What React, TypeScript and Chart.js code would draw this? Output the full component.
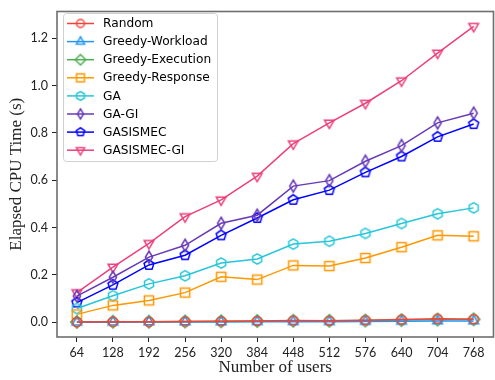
import React, { useEffect, useRef } from "react";
import { Chart, registerables } from "chart.js";

Chart.register(...registerables);

const users = [64, 128, 192, 256, 320, 384, 448, 512, 576, 640, 704, 768];
const yTickValues = [0.0, 0.2, 0.4, 0.6, 0.8, 1.0, 1.2];

const seriesNames = [
  "Random",
  "Greedy-Workload",
  "Greedy-Execution",
  "Greedy-Response",
  "GA",
  "GA-GI",
  "GASISMEC",
  "GASISMEC-GI",
];

const random = [0.001, 0.002, 0.002, 0.003, 0.004, 0.005, 0.007, 0.006, 0.008, 0.011, 0.015, 0.013];
const greedyWorkload = [0.0, 0.0, 0.001, 0.001, 0.001, 0.002, 0.002, 0.002, 0.003, 0.004, 0.005, 0.005];
const greedyExecution = [0.001, 0.002, 0.002, 0.003, 0.004, 0.005, 0.006, 0.006, 0.007, 0.009, 0.011, 0.012];
const greedyResponse = [0.033, 0.071, 0.092, 0.125, 0.192, 0.18, 0.24, 0.237, 0.271, 0.317, 0.367, 0.363];
const ga = [0.058, 0.112, 0.162, 0.196, 0.25, 0.267, 0.33, 0.342, 0.375, 0.417, 0.458, 0.483];
const gaGi = [0.11, 0.19, 0.275, 0.325, 0.418, 0.452, 0.575, 0.598, 0.68, 0.746, 0.842, 0.883];
const gasismec = [0.083, 0.158, 0.242, 0.283, 0.367, 0.44, 0.517, 0.558, 0.633, 0.7, 0.783, 0.837];
const gasismecGi = [0.125, 0.233, 0.333, 0.446, 0.517, 0.617, 0.754, 0.842, 0.925, 1.02, 1.137, 1.25];

const seriesValues = [random, greedyWorkload, greedyExecution, greedyResponse, ga, gaGi, gasismec, gasismecGi];
const seriesColors = ["#F44336", "#2196F3", "#4CAF50", "#FF9800", "#26C6DA", "#673AB7", "#0000FF", "#EC407A"];
const seriesMarkers = ["circle", "triangle", "diamond", "square", "hexagon", "thindiamond", "pentagon", "downtriangle"];

function makeMarker(kind: string, color: string, scale: number): HTMLCanvasElement {
  const size = 20;
  const c = document.createElement("canvas");
  c.width = size;
  c.height = size;
  const ctx = c.getContext("2d")!;
  const cx = size / 2;
  const cy = size / 2;
  ctx.strokeStyle = color;
  ctx.lineWidth = 1.5;
  ctx.lineJoin = "miter";
  ctx.beginPath();
  const poly = (pts: number[][]) => {
    ctx.moveTo(cx + pts[0][0] * scale, cy + pts[0][1] * scale);
    for (let i = 1; i < pts.length; i++) ctx.lineTo(cx + pts[i][0] * scale, cy + pts[i][1] * scale);
    ctx.closePath();
  };
  const reg = (n: number, r: number, rot: number) => {
    const pts: number[][] = [];
    for (let i = 0; i < n; i++) {
      const a = rot + (i * 2 * Math.PI) / n;
      pts.push([r * Math.cos(a), r * Math.sin(a)]);
    }
    poly(pts);
  };
  if (kind === "circle") {
    ctx.arc(cx, cy, 4.6 * scale, 0, Math.PI * 2);
  } else if (kind === "triangle") {
    reg(3, 5.6, -Math.PI / 2);
  } else if (kind === "downtriangle") {
    reg(3, 5.6, Math.PI / 2);
  } else if (kind === "diamond") {
    poly([[0, -6.2], [6.2, 0], [0, 6.2], [-6.2, 0]]);
  } else if (kind === "thindiamond") {
    poly([[0, -6], [3.6, 0], [0, 6], [-3.6, 0]]);
  } else if (kind === "square") {
    poly([[-4.6, -4.6], [4.6, -4.6], [4.6, 4.6], [-4.6, 4.6]]);
  } else if (kind === "hexagon") {
    reg(6, 5.2, -Math.PI / 2);
  } else if (kind === "pentagon") {
    reg(5, 5.2, -Math.PI / 2);
  }
  ctx.stroke();
  return c;
}

export default function App() {
  const canvasRef = useRef<HTMLCanvasElement | null>(null);

  useEffect(() => {
    const canvas = canvasRef.current!;
    const plotMarkers = seriesMarkers.map((m, i) => makeMarker(m, seriesColors[i], 1));
    const legendMarkers = seriesMarkers.map((m, i) => makeMarker(m, seriesColors[i], 0.85));

    const datasets = seriesNames.map((name, i) => ({
      label: name,
      data: users.map((u, j) => ({ x: u, y: seriesValues[i][j] })),
      borderColor: seriesColors[i],
      backgroundColor: "rgba(0,0,0,0)",
      borderWidth: 1.5,
      pointStyle: plotMarkers[i] as any,
      pointRadius: 5,
      pointHoverRadius: 5,
      tension: 0,
      clip: false as any,
    }));

    const framePlugin = {
      id: "frame",
      afterDatasetsDraw(chart: any) {
        const { ctx, chartArea: a } = chart;
        ctx.save();
        ctx.strokeStyle = "#6e6e6e";
        ctx.lineWidth = 1.6;
        ctx.strokeRect(a.left, a.top, a.right - a.left, a.bottom - a.top);
        ctx.restore();
      },
    };

    const legendPlugin = {
      id: "customLegend",
      afterDraw(chart: any) {
        const ctx = chart.ctx;
        const bx = 63.5, by = 13.5, bw = 154, bh = 148;
        ctx.save();
        ctx.fillStyle = "rgba(255,255,255,0.8)";
        ctx.strokeStyle = "#d0d0d0";
        ctx.lineWidth = 1;
        ctx.beginPath();
        (ctx as any).roundRect(bx, by, bw, bh, 3);
        ctx.fill();
        ctx.stroke();
        ctx.font = "12.2px 'DejaVu Sans'";
        ctx.textBaseline = "middle";
        ctx.textAlign = "left";
        seriesNames.forEach((name, i) => {
          const y = 23.5 + i * 18.1;
          ctx.strokeStyle = seriesColors[i];
          ctx.lineWidth = 1.5;
          ctx.beginPath();
          ctx.moveTo(67, y);
          ctx.lineTo(94, y);
          ctx.stroke();
          const m = legendMarkers[i];
          ctx.drawImage(m, 80.5 - m.width / 2, y - m.height / 2);
          ctx.fillStyle = "#000";
          ctx.fillText(name, 103, y + 0.5);
        });
        ctx.restore();
      },
    };

    const chart = new Chart(canvas, {
      type: "line",
      data: { datasets: datasets as any },
      options: {
        animation: false,
        responsive: false,
        maintainAspectRatio: false,
        layout: { padding: { left: 0, top: 7, right: 1, bottom: 0 } },
        plugins: { legend: { display: false }, tooltip: { enabled: false } },
        scales: {
          x: {
            type: "linear",
            min: 28.8,
            max: 803.2,
            afterFit: (s: any) => { s.height = 43; },
            afterBuildTicks: (s: any) => { s.ticks = users.map((v) => ({ value: v })); },
            border: { display: false },
            grid: { display: true, drawOnChartArea: false, drawTicks: true, tickLength: 5, color: "#222", lineWidth: 1 },
            ticks: {
              color: "#222",
              padding: 3,
              maxRotation: 0,
              font: { family: "Lato", size: 12.5 },
              callback: (v: any) => String(v),
            },
            title: {
              display: true,
              text: "Number of users",
              color: "#222",
              font: { family: "'Liberation Serif'", size: 17 },
              padding: { top: 0, bottom: 2 },
            },
          },
          y: {
            type: "linear",
            min: -0.0625,
            max: 1.3125,
            afterFit: (s: any) => { s.width = 57; },
            afterBuildTicks: (s: any) => { s.ticks = yTickValues.map((v) => ({ value: v })); },
            border: { display: false },
            grid: { display: true, drawOnChartArea: false, drawTicks: true, tickLength: 5, color: "#222", lineWidth: 1 },
            ticks: {
              color: "#222",
              padding: 4,
              font: { family: "Lato", size: 12.5 },
              callback: (v: any) => Number(v).toFixed(1),
            },
            title: {
              display: true,
              text: "Elapsed CPU Time (s)",
              color: "#222",
              font: { family: "'Liberation Serif'", size: 17 },
              padding: { top: 6, bottom: 0 },
            },
          },
        },
      },
      plugins: [framePlugin, legendPlugin],
    });
    return () => chart.destroy();
  }, []);

  return (
    <div style={{ position: "fixed", left: 0, top: 0, width: 495, height: 380, overflow: "hidden", background: "#fff" }}>
      <canvas ref={canvasRef} width={500} height={380} style={{ width: 500, height: 380, display: "block" }} />
    </div>
  );
}
